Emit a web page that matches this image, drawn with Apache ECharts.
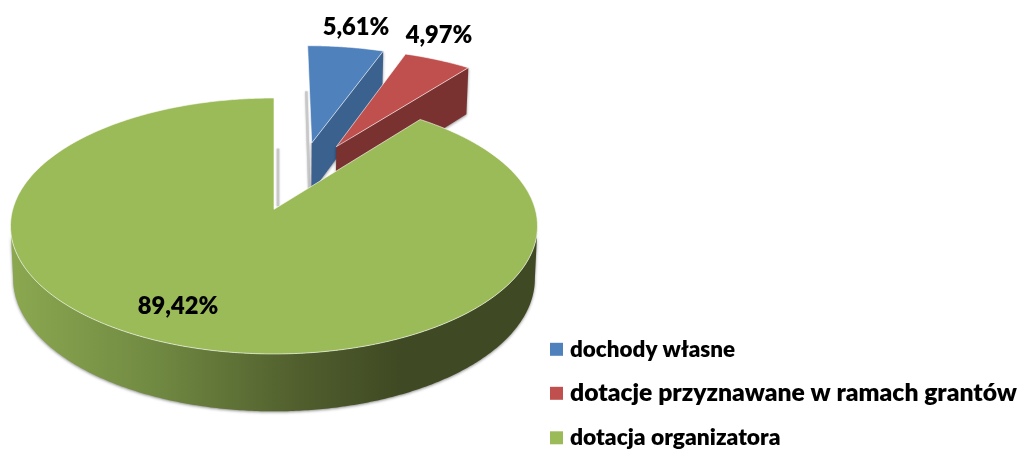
<!DOCTYPE html>
<html>
<head>
<meta charset="utf-8">
<style>html,body{margin:0;padding:0;background:#fff}#chart{width:1019px;height:450px}</style>
<script src="https://cdn.jsdelivr.net/npm/echarts@6/dist/echarts.min.js"></script>
</head>
<body>
<div id="chart"></div>
<script>
const categories = ['dochody własne', 'dotacje przyznawane w ramach grantów', 'dotacja organizatora']
const shares = [5.61, 4.97, 89.42]
const shareLabels = ['5,61%', '4,97%', '89,42%']
const colors = ['#4f81bd', '#c0504d', '#9bbb59']
const sideColors = ['#3b618e', '#7a3231', null]

// perspective of the tilted pie: disc coords (u,v) -> pixels
const cx = 274, cy = 209.3, scaleX = 261.25, scaleY = 125.8, persp = 0.1304
// how far a slice is pulled out of the pie, in disc units
const explode = [[0.155, 0.566], [0.255, 0.532], [0, 0]]
const labelPos = [[356, 27], [439, 35], [178, 306]]
const total = shares.reduce((a, b) => a + b, 0)

function topPt(u, v) {
    let d = 1 + persp * v
    return [cx + scaleX * u / d, cy - scaleY * v / d]
}
function bottomPt(u, v) {
    let d = 1 + persp * v
    let p = topPt(u, v)
    return [cx + (p[0] - cx) * 0.99, p[1] + 52 / Math.pow(d, 0.7)]
}
function rim(fn, ex, a) {
    return fn(ex[0] + Math.sin(a), ex[1] + Math.cos(a))
}
function arc(fn, ex, a0, a1) {
    let pts = []
    let n = Math.max(2, Math.ceil((a1 - a0) / 0.01))
    for (let i = 0; i <= n; i++) {
        pts.push(rim(fn, ex, a0 + (a1 - a0) * i / n))
    }
    return pts
}

function renderSlice(idx, params, api) {
    let start = 0
    for (let i = 0; i < idx; i++) start += shares[i]
    // green starts after the two pulled out slices and runs round to the top
    let a0 = start / total * Math.PI * 2
    let a1 = (start + api.value(0)) / total * Math.PI * 2
    let ex = explode[idx]
    let apexTop = topPt(ex[0], ex[1])
    let apexBottom = bottomPt(ex[0], ex[1])
    let shadow = { shadowColor: 'rgba(0,0,0,0.45)', shadowBlur: 3, shadowOffsetY: 1 }
    let soft = { stroke: '#c8c8c8', lineWidth: 2.5, fill: null, shadowColor: 'rgba(0,0,0,0.25)', shadowBlur: 2 }
    let children = []

    if (idx == 2) {
        // grey sliver of the cut wall, next to the gap
        let t = rim(bottomPt, ex, a1)
        children.push({
            type: 'polyline',
            shape: { points: [[t[0] + 4, t[1] + 3], [apexTop[0] + 4, apexTop[1] - 3]] },
            style: soft
        })
        // outer band, only the part facing the viewer so the back rim stays clean
        let side = Math.acos(-persp)
        let band = arc(topPt, ex, side, Math.PI * 2 - side)
        band = band.concat(arc(bottomPt, ex, side, Math.PI * 2 - side).reverse())
        children.push({
            type: 'polygon',
            shape: { points: band },
            style: Object.assign({
                fill: new echarts.graphic.LinearGradient(0, 0, 1, 0, [
                    { offset: 0, color: '#8ba850' },
                    { offset: 0.27, color: '#718a42' },
                    { offset: 0.55, color: '#505e2d' },
                    { offset: 0.74, color: '#3f4923' },
                    { offset: 1, color: '#3f4923' }
                ])
            }, shadow)
        })
    } else {
        if (idx == 0) {
            let t = rim(bottomPt, ex, a0)
            children.push({
                type: 'polyline',
                shape: { points: [[t[0] - 1, t[1]], [apexBottom[0] - 2, apexBottom[1]]] },
                style: soft
            })
        }
        // cut wall facing the viewer
        children.push({
            type: 'polygon',
            shape: { points: [apexTop, rim(topPt, ex, a1), rim(bottomPt, ex, a1), apexBottom] },
            style: Object.assign({ fill: sideColors[idx] }, shadow)
        })
    }

    let face = [apexTop].concat(arc(topPt, ex, a0, a1))
    children.push({
        type: 'polygon',
        shape: { points: face },
        style: { fill: colors[idx], stroke: 'rgba(255,255,255,0.6)', lineWidth: 1 }
    })
    children.push({
        type: 'text',
        z2: 10,
        style: {
            text: shareLabels[idx],
            x: labelPos[idx][0],
            y: labelPos[idx][1],
            align: 'center',
            verticalAlign: 'middle',
            fontFamily: 'Lato',
            fontWeight: 800,
            fontSize: 23.7,
            fill: '#000'
        }
    })
    return { type: 'group', children: children }
}

function legendText(size) {
    return { fontFamily: 'Lato', fontWeight: 800, fontSize: size, color: '#000', height: 24, padding: [0, 0, 0, 2] }
}

const myChart = echarts.init(document.getElementById('chart'), null, { renderer: 'canvas' })
myChart.setOption({
    animation: false,
    backgroundColor: '#fff',
    tooltip: { show: false },
    legend: {
        orient: 'vertical',
        left: 550,
        top: 338.3,
        padding: 0,
        itemWidth: 13,
        itemHeight: 13,
        itemGap: 20.5,
        icon: 'rect',
        selectedMode: false,
        data: categories,
        formatter: function (name) {
            return '{i' + categories.indexOf(name) + '|' + name + '}'
        },
        textStyle: {
            rich: { i0: legendText(22.4), i1: legendText(24.7), i2: legendText(22.8) }
        }
    },
    series: categories.map((name, i) => ({
        type: 'custom',
        name: name,
        coordinateSystem: 'none',
        itemStyle: { color: colors[i] },
        silent: true,
        data: [[shares[i]]],
        renderItem: (params, api) => renderSlice(i, params, api)
    }))
})
</script>
</body>
</html>
